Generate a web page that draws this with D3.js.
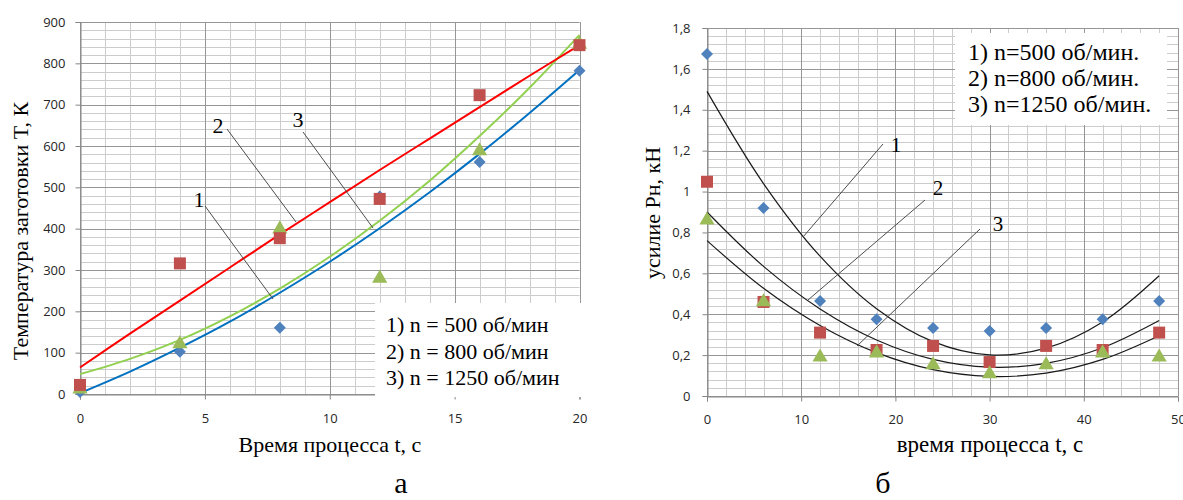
<!DOCTYPE html>
<html>
<head>
<meta charset="utf-8">
<script src="https://cdn.jsdelivr.net/npm/d3@7"></script>
<style>
  html, body { margin: 0; padding: 0; background: #ffffff; }
  svg { display: block; }
  .tick text { font-family: "Open Sans", "Noto Sans", sans-serif; font-size: 13px; fill: #262626; }
  .serif { font-family: "Liberation Serif", "Times New Roman", serif; fill: #000; }
</style>
</head>
<body>
<svg id="chart" width="1183" height="500"></svg>
<script>
// ---------- Panel "а": temperature ----------
const leftTicksX = [0, 5, 10, 15, 20];
const leftTicksY = [0, 100, 200, 300, 400, 500, 600, 700, 800, 900];
const leftTime = [0, 4, 8, 12, 16, 20];
const leftS1 = [5, 102, 160, 478, 561, 782];      // 1) n = 500
const leftS2 = [22, 316, 377, 472, 723, 844];     // 2) n = 800
const leftS3 = [12, 121, 399, 280, 588, 846];     // 3) n = 1250
const leftFitTime = [0, 2, 4, 6, 8, 10, 12, 14, 16, 18, 20];
const leftFit1 = [2, 54, 112, 175, 245, 320, 401, 488, 581, 680, 784];   // blue
const leftFit2 = [64, 146, 226, 306, 386, 464, 542, 618, 694, 770, 844]; // red
const leftFit3 = [48, 85, 131, 188, 255, 332, 419, 516, 624, 741, 869];  // green
const leftLegend = ["1) n = 500 об/мин", "2) n = 800 об/мин", "3) n = 1250 об/мин"];

// ---------- Panel "б": force ----------
const rightTicksX = [0, 10, 20, 30, 40, 50];
const rightTicksY = [0, 0.2, 0.4, 0.6, 0.8, 1, 1.2, 1.4, 1.6, 1.8];
const rightTickLabelsY = ["0", "0,2", "0,4", "0,6", "0,8", "1", "1,2", "1,4", "1,6", "1,8"];
const rightTime = [0, 6, 12, 18, 24, 30, 36, 42, 48];
const rightS1 = [1.673, 0.92, 0.465, 0.376, 0.333, 0.318, 0.333, 0.376, 0.465];
const rightS2 = [1.048, 0.46, 0.31, 0.225, 0.245, 0.166, 0.245, 0.225, 0.31];
const rightS3 = [0.86, 0.46, 0.19, 0.21, 0.152, 0.108, 0.152, 0.21, 0.19];
const rightFitTime = [0, 6, 12, 18, 24, 30, 36, 42, 48];
const rightFit1 = [1.49, 1.039, 0.684, 0.427, 0.266, 0.201, 0.234, 0.362, 0.588];
const rightFit2 = [0.90, 0.634, 0.426, 0.274, 0.179, 0.141, 0.160, 0.236, 0.369];
const rightFit3 = [0.76, 0.527, 0.345, 0.212, 0.129, 0.096, 0.112, 0.179, 0.295];
const rightLegend = ["1) n=500 об/мин.", "2) n=800 об/мин.", "3) n=1250 об/мин."];

const markerColors = ["#4F81BD", "#C0504D", "#9BBB59"];
const markerShapes = [d3.symbolSquare, d3.symbolSquare, d3.symbolTriangle];
const markerRotate = [45, 0, 0];

const svg = d3.select("#chart");

function drawGrid(g, x, y, xMinor, yMinor, xMajor, yMajor) {
  const [x0, x1] = x.range();
  const [y0, y1] = y.range();
  const minorC = "#cccccc", majorC = "#969696";
  const gx = g.append("g");
  const xs = d3.range(x.domain()[0], x.domain()[1] + 1e-9, xMinor);
  const ys = d3.range(y.domain()[0], y.domain()[1] + 1e-9, yMinor);
  const isMajor = (v, m) => Math.abs(v / m - Math.round(v / m)) < 1e-6;
  [false, true].forEach(maj => {
    xs.filter(v => isMajor(v, xMajor) === maj).forEach(v => {
      const px = Math.round(x(v)) + 0.5;
      gx.append("line").attr("x1", px).attr("x2", px).attr("y1", y1).attr("y2", y0)
        .attr("stroke", maj ? majorC : minorC).attr("stroke-width", 1);
    });
    ys.filter(v => isMajor(v, yMajor) === maj).forEach(v => {
      const py = Math.round(y(v)) + 0.5;
      gx.append("line").attr("x1", x0).attr("x2", x1).attr("y1", py).attr("y2", py)
        .attr("stroke", maj ? majorC : minorC).attr("stroke-width", 1);
    });
  });
}

function drawAxes(g, x, y, ticksX, ticksY, labelsY, padX, padY) {
  const ax = g.append("g").attr("transform", `translate(0,${Math.round(y.range()[0]) + 0.5})`)
    .call(d3.axisBottom(x).tickValues(ticksX).tickSize(5).tickPadding(padX).tickFormat(d3.format("d")));
  const ay = g.append("g").attr("transform", `translate(${Math.round(x.range()[0]) + 0.5},0)`)
    .call(d3.axisLeft(y).tickValues(ticksY).tickSize(5).tickPadding(padY)
      .tickFormat((d, i) => labelsY ? labelsY[i] : d3.format("d")(d)));
  [ax, ay].forEach(a => {
    a.select(".domain").attr("stroke", "#868686");
    a.selectAll(".tick line").attr("stroke", "#868686");
  });
  return [ax, ay];
}

function drawMarkers(g, x, y, time, series, order, size) {
  order.forEach(i => {
    const s = series[i];
    const sym = d3.symbol().type(markerShapes[i]).size(size[i]);
    g.append("g").selectAll("path").data(s).join("path")
      .attr("d", sym)
      .attr("transform", (d, j) => `translate(${x(time[j])},${y(d)}) rotate(${markerRotate[i]})`)
      .attr("fill", markerColors[i]);
  });
}

function drawCurve(g, x, y, time, vals, color, width) {
  const l = d3.line().x((d, i) => x(time[i])).y(d => y(d)).curve(d3.curveCatmullRom.alpha(0.5));
  g.append("path").datum(vals).attr("d", l).attr("fill", "none")
    .attr("stroke", color).attr("stroke-width", width);
}

function callout(g, x1, y1, x2, y2, lx, ly, label, fs) {
  g.append("line").attr("x1", x1).attr("y1", y1).attr("x2", x2).attr("y2", y2)
    .attr("stroke", "#4d4d4d").attr("stroke-width", 1);
  g.append("text").attr("class", "serif").attr("x", lx).attr("y", ly)
    .attr("text-anchor", "middle").style("font-size", fs + "px").text(label);
}

// ===== Left panel =====
{
  const g = svg.append("g");
  const x = d3.scaleLinear().domain([0, 20]).range([80, 579.5]);
  const y = d3.scaleLinear().domain([0, 900]).range([394, 22]);
  drawGrid(g, x, y, 1, 20, 5, 100);
  drawAxes(g, x, y, leftTicksX, leftTicksY, null, 14, 10);

  drawCurve(g, x, y, leftFitTime, leftFit1, "#0070C0", 2);
  drawCurve(g, x, y, leftFitTime, leftFit3, "#92D050", 2);
  drawCurve(g, x, y, leftFitTime, leftFit2, "#FF0000", 2);

  drawMarkers(g, x, y, leftTime, [leftS1, leftS2, leftS3], [0, 2, 1], [72, 144, 100]);

  callout(g, 205, 206, 273, 299, 199, 207, "1", 22);
  callout(g, 227, 129, 296, 222, 218, 133, "2", 22);
  callout(g, 303, 132, 373, 228, 298, 127, "3", 22);

  g.append("rect").attr("x", 375).attr("y", 303).attr("width", 210).attr("height", 94).attr("fill", "#fff");
  leftLegend.forEach((t, i) => {
    g.append("text").attr("class", "serif").attr("x", 386).attr("y", 332 + i * 26.5)
      .style("font-size", "22px").text(t);
  });

  g.append("text").attr("class", "serif").attr("x", 330).attr("y", 452)
    .attr("text-anchor", "middle").style("font-size", "22px").text("Время процесса t, с");
  g.append("text").attr("class", "serif").attr("transform", "translate(28,231) rotate(-90)")
    .attr("text-anchor", "middle").style("font-size", "22px").text("Температура заготовки T, К");
  g.append("text").attr("class", "serif").attr("x", 401).attr("y", 493)
    .attr("text-anchor", "middle").style("font-size", "30px").text("а");
}

// ===== Right panel =====
{
  const g = svg.append("g");
  const x = d3.scaleLinear().domain([0, 50]).range([707, 1178]);
  const y = d3.scaleLinear().domain([0, 1.8]).range([396, 28]);
  drawGrid(g, x, y, 2, 0.04, 10, 0.2);
  drawAxes(g, x, y, rightTicksX, rightTicksY, rightTickLabelsY, 13, 12);

  [rightFit1, rightFit2, rightFit3].forEach(f => drawCurve(g, x, y, rightFitTime, f, "#1a1a1a", 1.2));

  drawMarkers(g, x, y, rightTime, [rightS1, rightS2, rightS3], [0, 1, 2], [72, 144, 100]);

  callout(g, 883, 144, 803, 237, 896, 152, "1", 21);
  callout(g, 925, 200, 808, 300, 938, 195, "2", 21);
  callout(g, 980, 229, 857, 346, 998, 231, "3", 21);

  g.append("rect").attr("x", 955).attr("y", 33).attr("width", 212).attr("height", 92).attr("fill", "#fff");
  rightLegend.forEach((t, i) => {
    g.append("text").attr("class", "serif").attr("x", 968).attr("y", 60 + i * 26)
      .style("font-size", "24px").text(t);
  });

  g.append("text").attr("class", "serif").attr("x", 990).attr("y", 452)
    .attr("text-anchor", "middle").style("font-size", "23px").text("время процесса t, с");
  g.append("text").attr("class", "serif").attr("transform", "translate(660,213) rotate(-90)")
    .attr("text-anchor", "middle").style("font-size", "22px").text("усилие Рн, кН");
  g.append("text").attr("class", "serif").attr("x", 883).attr("y", 493)
    .attr("text-anchor", "middle").style("font-size", "30px").text("б");
}
</script>
</body>
</html>
